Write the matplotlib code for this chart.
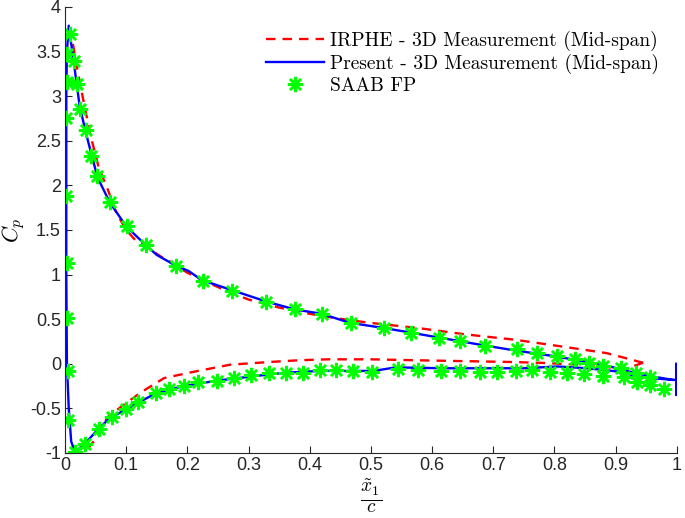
import numpy as np
import matplotlib.pyplot as plt

plt.rcParams['mathtext.fontset'] = 'cm'

# IRPHE - 3D measurement (closed loop, upper then lower)
irphe_x = [0.945, 0.924, 0.885, 0.816, 0.735, 0.654, 0.578, 0.497, 0.444, 0.40, 0.35,
           0.30, 0.266, 0.234, 0.20, 0.173, 0.157, 0.135, 0.113, 0.100, 0.084, 0.070,
           0.055, 0.042, 0.030, 0.020, 0.012,
           None,
           0.037, 0.053, 0.069, 0.092, 0.124, 0.162, 0.21, 0.27, 0.334, 0.383, 0.43,
           0.50, 0.57, 0.65, 0.73, 0.78, 0.84, 0.89, 0.92, 0.948]
irphe_y = [0.01, 0.05, 0.12, 0.19, 0.27, 0.33, 0.40, 0.46, 0.51, 0.56, 0.63,
           0.72, 0.81, 0.91, 1.02, 1.14, 1.20, 1.30, 1.40, 1.50, 1.69, 1.95,
           2.20, 2.55, 2.95, 3.30, 3.62,
           None,
           -0.95, -0.82, -0.60, -0.48, -0.32, -0.16, -0.09, -0.01, 0.02, 0.04, 0.05,
           0.05, 0.04, 0.03, 0.02, 0.01, -0.01, -0.04, -0.05, 0.02]

# Present - 3D measurement (upper from TE to LE, down the nose, lower back to TE)
present_x = [0.993, 0.950, 0.924, 0.885, 0.853, 0.805, 0.735, 0.682, 0.606, 0.565,
             0.522, 0.465, 0.420, 0.375, 0.328, 0.262, 0.223, 0.202, 0.181, 0.150,
             0.132, 0.100, 0.073, 0.053, 0.037, 0.024, 0.016, 0.006, 0.003, 0.002,
             0.002, 0.003, 0.006, 0.010, 0.016, 0.032, 0.053, 0.073, 0.100, 0.118,
             0.149, 0.194, 0.247, 0.307, 0.36, 0.417, 0.504, 0.541, 0.617, 0.682,
             0.75, 0.805, 0.853, 0.908, 0.94, 0.993, 0.999, 0.999, 0.999, 0.999]
present_y = [-0.18, -0.13, -0.09, -0.02, 0.02, 0.08, 0.15, 0.21, 0.30, 0.35,
             0.40, 0.46, 0.56, 0.61, 0.70, 0.85, 0.94, 1.04, 1.10, 1.22,
             1.33, 1.54, 1.81, 2.09, 2.51, 2.88, 3.29, 3.79, 3.50, 3.00,
             1.00, 0.00, -0.50, -0.87, -0.99, -0.90, -0.74, -0.61, -0.51, -0.44,
             -0.33, -0.25, -0.19, -0.14, -0.10, -0.08, -0.08, -0.04, -0.05, -0.05,
             -0.05, -0.03, -0.05, -0.09, -0.15, -0.18, -0.18, 0.00, -0.35, -0.18]

# SAAB FP
saab_x = [0.008, 0.003, 0.015, 0.003, 0.020, 0.002, 0.025, 0.034, 0.042, 0.053,
          0.002, 0.073, 0.102, 0.132, 0.003, 0.181, 0.225, 0.273, 0.328, 0.376,
          0.420, 0.467, 0.522, 0.565, 0.611, 0.645, 0.687, 0.738, 0.772, 0.805,
          0.834, 0.857, 0.880, 0.909, 0.934, 0.957,
          0.003, 0.005, 0.005, 0.016, 0.033, 0.055, 0.077, 0.100, 0.120, 0.148,
          0.170, 0.195, 0.218, 0.248, 0.276, 0.304, 0.334, 0.361, 0.389, 0.416,
          0.443, 0.471, 0.502, 0.544, 0.577, 0.614, 0.646, 0.679, 0.706, 0.737,
          0.764, 0.792, 0.820, 0.848, 0.880, 0.913, 0.935, 0.957, 0.979]
saab_y = [3.70, 3.47, 3.40, 3.16, 3.14, 2.76, 2.86, 2.62, 2.33, 2.11,
          1.88, 1.81, 1.55, 1.33, 1.13, 1.10, 0.93, 0.82, 0.69, 0.61,
          0.56, 0.46, 0.40, 0.35, 0.29, 0.25, 0.20, 0.17, 0.12, 0.09,
          0.05, 0.01, -0.03, -0.05, -0.10, -0.15,
          0.51, -0.08, -0.63, -0.99, -0.90, -0.73, -0.60, -0.51, -0.43, -0.33,
          -0.28, -0.25, -0.20, -0.19, -0.16, -0.13, -0.10, -0.10, -0.10, -0.07,
          -0.07, -0.08, -0.09, -0.06, -0.07, -0.08, -0.08, -0.09, -0.09, -0.08,
          -0.07, -0.09, -0.10, -0.12, -0.14, -0.15, -0.20, -0.24, -0.28]

irphe_x = np.array(irphe_x, dtype=float)
irphe_y = np.array(irphe_y, dtype=float)

fig = plt.figure(figsize=(6.85, 5.18), dpi=100)
ax = fig.add_axes([0.095, 0.1255, 0.893, 0.861])

ax.plot(irphe_x, irphe_y, '--', color='#ff0000', lw=1.7, dashes=(4, 3),
        label='IRPHE - 3D Measurement (Mid-span)')
ax.plot(present_x, present_y, '-', color='#0000ff', lw=1.7,
        label='Present - 3D Measurement (Mid-span)')
ax.plot(saab_x, saab_y, ls='none', marker=(8, 2, 0), ms=11, mew=1.8,
        color='#00ff00', label='SAAB FP')

ax.set_xlim(0, 1)
ax.set_ylim(-1, 4)
ax.set_xticks(np.arange(0, 1.01, 0.1))
ax.set_yticks(np.arange(-1, 4.01, 0.5))
ax.set_xticklabels(['0', '0.1', '0.2', '0.3', '0.4', '0.5', '0.6', '0.7', '0.8', '0.9', '1'])
ax.set_yticklabels(['-1', '-0.5', '0', '0.5', '1', '1.5', '2', '2.5', '3', '3.5', '4'])
for lab in ax.get_xticklabels() + ax.get_yticklabels():
    lab.set_family('Liberation Sans')
    lab.set_fontsize(13)
    lab.set_color('#262626')

ax.spines['top'].set_visible(False)
ax.spines['right'].set_visible(False)
for s in ['left', 'bottom']:
    ax.spines[s].set_color('#262626')
    ax.spines[s].set_linewidth(0.8)
ax.tick_params(direction='in', length=5, width=0.8, color='#262626', pad=3)

ax.set_ylabel(r'$C_p$', fontsize=16, labelpad=2)
ax.set_xlabel(r'$\frac{\tilde{x}_1}{c}$', fontsize=20, labelpad=2)

leg = ax.legend(loc='upper right', frameon=False, prop={'family': 'cmr10', 'size': 14},
                handlelength=3.0, handletextpad=0.3, labelspacing=0.15,
                bbox_to_anchor=(1.0, 0.985))

fig.savefig('out.png', dpi=100)
